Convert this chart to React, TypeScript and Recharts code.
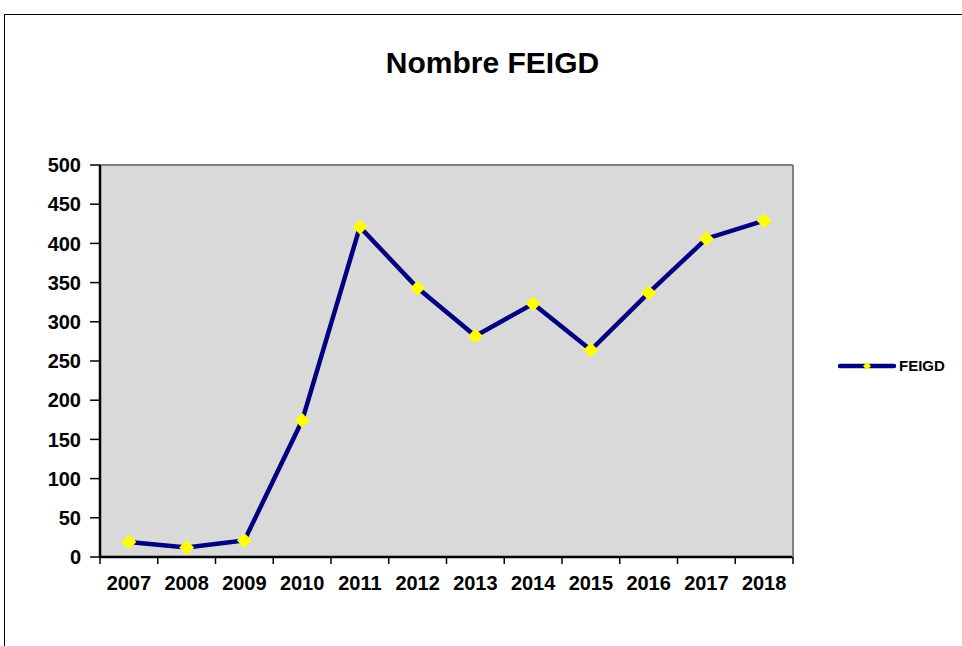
import React from "react";
import {
  LineChart,
  Line,
  XAxis,
  YAxis,
  CartesianGrid,
  Legend,
} from "recharts";

// ---------------------------------------------------------------------------
// Data
// ---------------------------------------------------------------------------

const YEARS = ["2007", "2008", "2009", "2010", "2011", "2012", "2013", "2014", "2015", "2016", "2017", "2018"];
const FEIGD = [19, 12, 21, 174, 421, 343, 282, 323, 264, 337, 406, 429];
const Y_TICKS = [0, 50, 100, 150, 200, 250, 300, 350, 400, 450, 500];

const data = YEARS.map((year, i) => ({ year, FEIGD: FEIGD[i] }));

// ---------------------------------------------------------------------------
// Layout
// ---------------------------------------------------------------------------

const WIDTH = 962;
const HEIGHT = 646;
const PLOT_LEFT = 100;
const PLOT_RIGHT = 793;
const BAND = (PLOT_RIGHT - PLOT_LEFT) / YEARS.length;
const FONT = '"Liberation Sans", Arial, sans-serif';

const NAVY = "#000080";
const YELLOW = "#FFFF00";

// Excel-like category axis: tick marks between categories, labels centred
function YearTick(props: any) {
  const { x, y, payload, index } = props;
  const left = x - BAND / 2;
  return (
    <g>
      <line x1={left} y1={y} x2={left} y2={y + 7} stroke="#000" strokeWidth={1.5} />
      {index === YEARS.length - 1 && (
        <line x1={x + BAND / 2} y1={y} x2={x + BAND / 2} y2={y + 7} stroke="#000" strokeWidth={1.5} />
      )}
      <text
        x={x}
        y={y + 33}
        textAnchor="middle"
        fontFamily={FONT}
        fontWeight="bold"
        fontSize={20}
        fill="#000"
      >
        {payload.value}
      </text>
    </g>
  );
}

function Diamond(props: any) {
  const { cx, cy } = props;
  if (cx == null || cy == null) return null;
  const r = 7.5;
  return (
    <path
      d={`M${cx},${cy - r} L${cx + r},${cy} L${cx},${cy + r} L${cx - r},${cy} Z`}
      fill={YELLOW}
      stroke="none"
    />
  );
}

function LegendBox() {
  return (
    <svg width={115} height={20} style={{ display: "block" }}>
      <line x1={2} y1={10} x2={56} y2={10} stroke={NAVY} strokeWidth={4.5} strokeLinecap="round" />
      <path d="M29,6 L33,10 L29,14 L25,10 Z" fill={YELLOW} />
      <text x={61} y={15} fontFamily={FONT} fontWeight="bold" fontSize={15} fill="#000">
        FEIGD
      </text>
    </svg>
  );
}

export default function App() {
  return (
    <div
      style={{
        position: "absolute",
        left: 0,
        top: 0,
        width: WIDTH,
        height: HEIGHT,
        background: "#fff",
        overflow: "hidden",
        fontFamily: FONT,
      }}
    >
      {/* outer chart frame */}
      <div
        style={{
          position: "absolute",
          left: 4,
          top: 14,
          width: WIDTH,
          height: HEIGHT,
          borderLeft: "1px solid #000",
          borderTop: "1px solid #000",
        }}
      />

      {/* Title */}
      <div
        style={{
          position: "absolute",
          left: 0,
          top: 48,
          width: 985,
          textAlign: "center",
          fontSize: 30,
          lineHeight: "30px",
          fontWeight: "bold",
          color: "#000",
        }}
      >
        Nombre FEIGD
      </div>

      <div style={{ position: "absolute", left: 0, top: 0 }}>
        <LineChart
          width={WIDTH}
          height={HEIGHT}
          data={data}
          margin={{ top: 165, right: 168, bottom: 49, left: 40 }}
        >
          <CartesianGrid
            vertical={false}
            stroke="#808080"
            strokeWidth={2}
            fill="#D9D9D9"
            fillOpacity={1}
          />
          <XAxis
            dataKey="year"
            scale="band"
            height={40}
            axisLine={{ stroke: "#000", strokeWidth: 2.5 }}
            tickLine={false}
            tickSize={0}
            tickMargin={0}
            interval={0}
            tick={<YearTick />}
          />
          <YAxis
            yAxisId="left"
            width={60}
            domain={[0, 500]}
            ticks={Y_TICKS}
            interval={0}
            axisLine={{ stroke: "#000", strokeWidth: 2.5 }}
            tickLine={{ stroke: "#000", strokeWidth: 1.5 }}
            tickSize={10}
            tickMargin={9}
            tick={{ fill: "#000", fontSize: 20, fontWeight: "bold", fontFamily: FONT }}
          />
          <YAxis
            yAxisId="right"
            orientation="right"
            width={1}
            domain={[0, 500]}
            axisLine={{ stroke: "#808080", strokeWidth: 2 }}
            tick={false}
            tickLine={false}
          />
          <Legend
            layout="horizontal"
            verticalAlign="middle"
            align="center"
            content={() => <LegendBox />}
            wrapperStyle={{ left: 838, top: 356, width: 120, height: 20 }}
          />
          <Line
            yAxisId="left"
            type="linear"
            dataKey="FEIGD"
            stroke={NAVY}
            strokeWidth={4.5}
            dot={<Diamond />}
            activeDot={false}
            isAnimationActive={false}
          />
        </LineChart>
      </div>
    </div>
  );
}
